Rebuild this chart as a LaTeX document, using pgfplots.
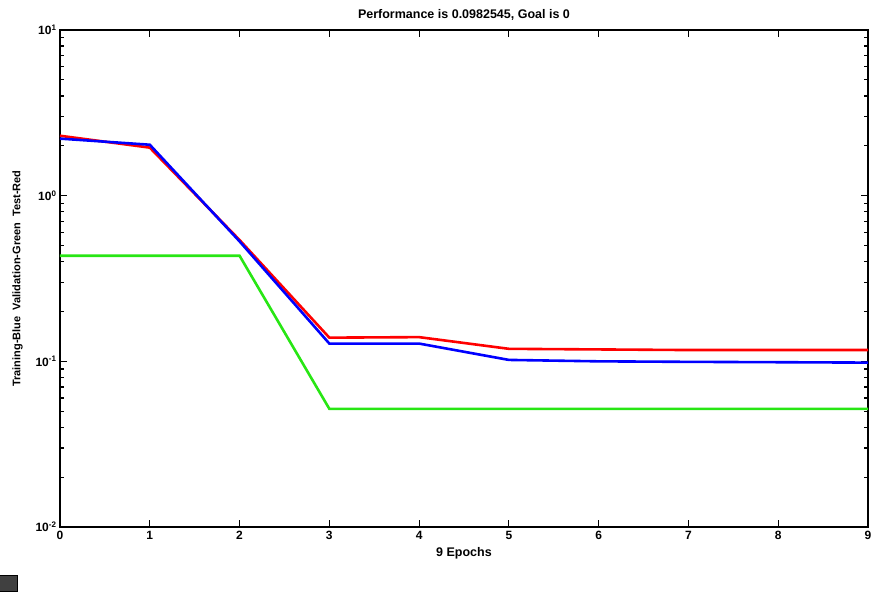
\documentclass[border=0pt]{standalone}
\usepackage{pgfplots}
\pgfplotsset{compat=1.18}
\usepackage{fontspec}
\setmainfont{Liberation Sans}
\begin{document}
\begin{tikzpicture}
\begin{semilogyaxis}[
  scale only axis,
  width=808pt, height=497pt,
  xmin=0, xmax=9,
  ymin=0.01, ymax=10,
  xtick={0,1,2,3,4,5,6,7,8,9},
  xticklabels={0,1,2,3,4,5,6,7,8,9},
  ytick={0.01,0.1,1,10},
  yticklabels={10\textsuperscript{-2},10\textsuperscript{-1},10\textsuperscript{0},10\textsuperscript{1}},
  tick align=inside,
  major tick length=7pt,
  minor tick length=4pt,
  every tick/.style={black, line width=1.2pt},
  axis line style={line width=1.6pt},
  tick label style={font=\fontsize{12}{13}\selectfont\bfseries},
  xticklabel style={yshift=-1pt},
  title={Performance is 0.0982545, Goal is 0},
  title style={font=\fontsize{12.5}{14}\selectfont\bfseries, yshift=0pt},
  xlabel={9 Epochs},
  xlabel style={font=\fontsize{12.5}{14}\selectfont\bfseries, yshift=-1pt},
  ylabel={Training-Blue\ \ Validation-Green\ \ Test-Red},
  ylabel style={font=\fontsize{11}{12}\selectfont\bfseries, yshift=6pt},
  clip=false,
]
\addplot[red, line width=2.6pt] coordinates {
(0,2.30) (1,1.95) (2,0.54) (3,0.139) (4,0.140) (5,0.119) (6,0.118) (7,0.117) (8,0.117) (9,0.117)};
\addplot[blue, line width=2.6pt] coordinates {
(0,2.21) (1,2.03) (2,0.53) (3,0.128) (4,0.128) (5,0.102) (6,0.1) (7,0.0993) (8,0.0988) (9,0.0982545)};
\addplot[color={rgb,255:red,40;green,230;blue,20}, line width=2.6pt] coordinates {
(0,0.434) (1,0.434) (2,0.434) (3,0.0517) (4,0.0517) (5,0.0517) (6,0.0517) (7,0.0517) (8,0.0517) (9,0.0517)};
\coordinate (ll) at (rel axis cs:0,0);
\coordinate (ur) at (rel axis cs:1,1);
\end{semilogyaxis}
\fill[black!75, draw=black, line width=1pt] ([xshift=-62pt,yshift=-48pt]ll) rectangle ([xshift=-42pt,yshift=-64pt]ll);
\pgfresetboundingbox
\path[use as bounding box] ([xshift=-60pt,yshift=-65pt]ll) rectangle ([xshift=5pt,yshift=30pt]ur);
\end{tikzpicture}
\end{document}
